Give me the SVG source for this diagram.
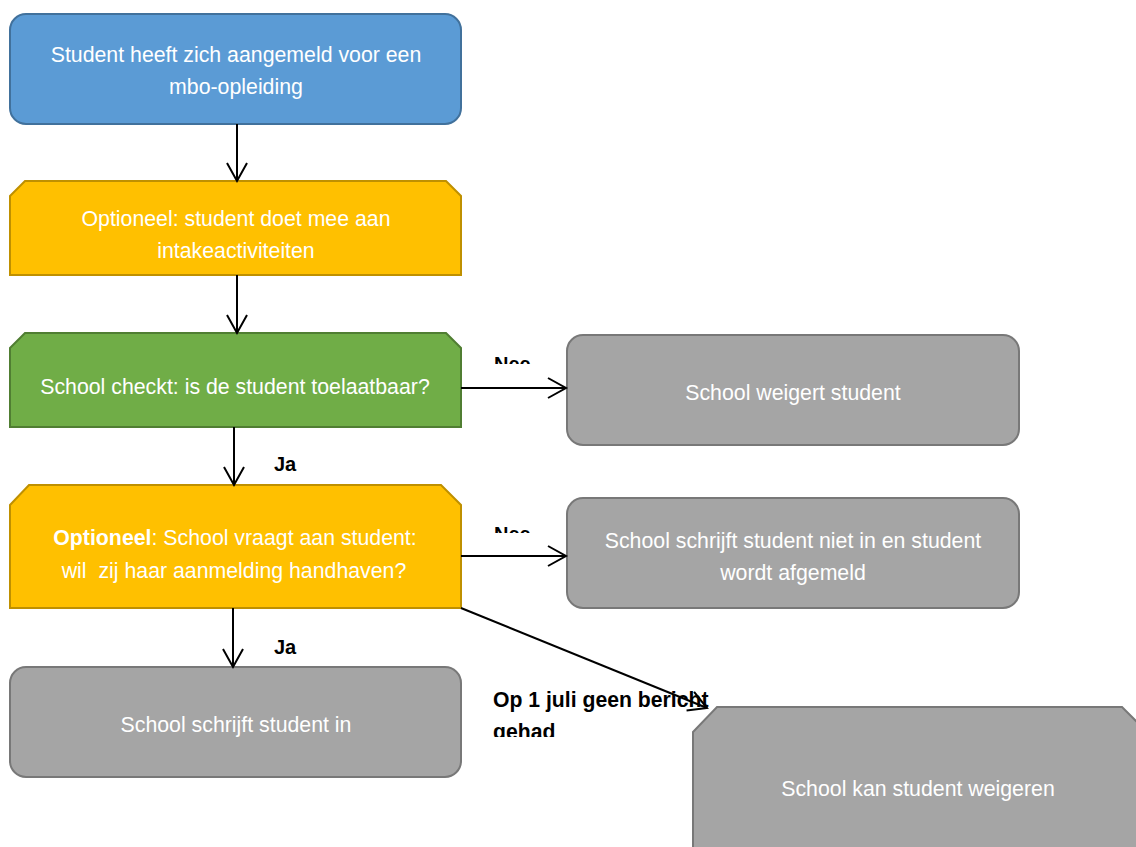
<svg xmlns="http://www.w3.org/2000/svg" width="1136" height="847" viewBox="0 0 1136 847">
<style>
.t{font-family:"Liberation Sans",Arial,sans-serif;font-size:21.3px;fill:#ffffff;text-anchor:middle;white-space:pre}
.lbl{font-family:"Liberation Sans",Arial,sans-serif;font-size:20px;font-weight:bold;fill:#000}
.blue{fill:#5B9BD5;stroke:#41719C;stroke-width:2}
.yel{fill:#FFC000;stroke:#BF9000;stroke-width:2}
.grn{fill:#70AD47;stroke:#507E32;stroke-width:2}
.gry{fill:#A5A5A5;stroke:#787878;stroke-width:2}
.c{stroke:#000;stroke-width:2;fill:none}
</style>
<defs>
<marker id="arr" markerUnits="userSpaceOnUse" markerWidth="22" markerHeight="24" refX="19" refY="11" orient="auto">
<path d="M1,1 L19,11 L1,21" fill="none" stroke="#000" stroke-width="2"/>
</marker>
<clipPath id="cNee1"><rect x="480" y="340" width="80" height="24"/></clipPath>
<clipPath id="cNee2"><rect x="480" y="510" width="80" height="23"/></clipPath>
<clipPath id="cOp"><rect x="480" y="680" width="240" height="57"/></clipPath>
</defs>
<rect width="1136" height="847" fill="#fff"/>
<g id="n1">
<rect class="blue" x="10" y="14" width="451" height="110" rx="16"/>
<text class="t" x="236" y="62">Student heeft zich aangemeld voor een</text>
<text class="t" x="236" y="94">mbo-opleiding</text>
</g>
<g id="n2">
<polygon class="yel" points="10,196 25,181 446,181 461,196 461,275 10,275"/>
<text class="t" x="236" y="226">Optioneel: student doet mee aan</text>
<text class="t" x="236" y="258">intakeactiviteiten</text>
</g>
<g id="n3">
<polygon class="grn" points="10,348 25,333 446,333 461,348 461,427 10,427"/>
<text class="t" x="235" y="394">School checkt: is de student toelaatbaar?</text>
</g>
<g id="n4">
<polygon class="yel" points="10,505 29,485 441,485 461,505 461,608 10,608"/>
<text class="t" x="235" y="545"><tspan font-weight="bold">Optioneel</tspan>: School vraagt aan student:</text>
<text class="t" x="234" y="578">wil  zij haar aanmelding handhaven?</text>
</g>
<g id="n5">
<rect class="gry" x="567" y="335" width="452" height="110" rx="16"/>
<text class="t" x="793" y="400">School weigert student</text>
</g>
<g id="n6">
<rect class="gry" x="567" y="498" width="452" height="110" rx="16"/>
<text class="t" x="793" y="548">School schrijft student niet in en student</text>
<text class="t" x="793" y="580">wordt afgemeld</text>
</g>
<g id="n7">
<rect class="gry" x="10" y="667" width="451" height="110" rx="16"/>
<text class="t" x="236" y="732">School schrijft student in</text>
</g>
<g id="n8">
<polygon class="gry" points="693,732 717,707 1122,707 1147,732 1147,880 693,880"/>
<text class="t" x="918" y="796">School kan student weigeren</text>
</g>
<g id="connectors">
<line class="c" x1="237" y1="124" x2="237" y2="181" marker-end="url(#arr)"/>
<line class="c" x1="237" y1="275" x2="237" y2="333" marker-end="url(#arr)"/>
<line class="c" x1="234" y1="427" x2="234" y2="485" marker-end="url(#arr)"/>
<line class="c" x1="233" y1="608" x2="233" y2="667" marker-end="url(#arr)"/>
<line class="c" x1="461" y1="388" x2="566" y2="388" marker-end="url(#arr)"/>
<line class="c" x1="461" y1="556" x2="566" y2="556" marker-end="url(#arr)"/>
<line class="c" x1="461" y1="608" x2="707" y2="708" marker-end="url(#arr)"/>
<text class="lbl" x="494" y="371" clip-path="url(#cNee1)">Nee</text>
<text class="lbl" x="494" y="541" clip-path="url(#cNee2)">Nee</text>
<text class="lbl" x="274" y="471">Ja</text>
<text class="lbl" x="274" y="654">Ja</text>
<g clip-path="url(#cOp)">
<text class="lbl" x="493" y="707" style="font-size:21.2px">Op 1 juli geen bericht</text>
<text class="lbl" x="493" y="739" style="font-size:21.2px">gehad</text>
</g>
</g>
</svg>
